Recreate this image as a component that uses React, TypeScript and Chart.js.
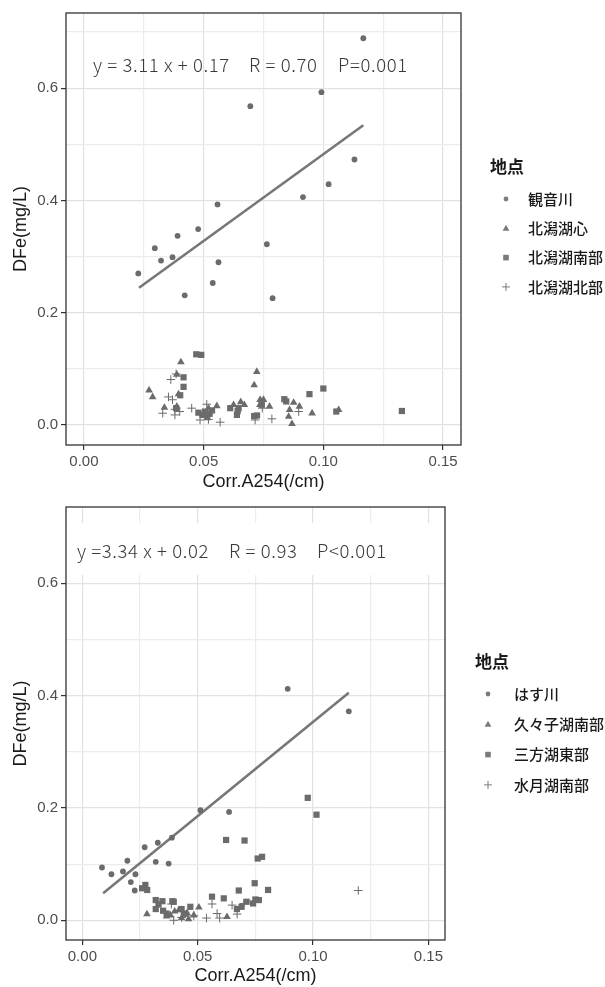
import React, { useEffect, useRef } from 'react';
import { Chart, registerables } from 'chart.js';

Chart.register(...registerables);

// ---------- shared axis ticks ----------
const xTicks = [0, 0.05, 0.1, 0.15];
const yTicks = [0, 0.2, 0.4, 0.6];
const xMinor = [0.025, 0.075, 0.125];
const yMinor = [0.1, 0.3, 0.5, 0.7];

// ---------- panel A (北潟) ----------
const seriesA = ['観音川', '北潟湖心', '北潟湖南部', '北潟湖北部'];
const kannonX = [0.0227, 0.0296, 0.0322, 0.037, 0.0391, 0.0421, 0.0477, 0.0538, 0.0558, 0.0562, 0.0695, 0.0764, 0.0788, 0.0915, 0.0992, 0.1022, 0.113, 0.1167];
const kannonY = [0.27, 0.315, 0.293, 0.299, 0.337, 0.231, 0.349, 0.253, 0.393, 0.29, 0.568, 0.322, 0.226, 0.406, 0.593, 0.429, 0.473, 0.689];
const shinX = [0.0272, 0.0287, 0.0336, 0.0388, 0.0388, 0.0405, 0.0395, 0.052, 0.0555, 0.0625, 0.0655, 0.067, 0.0711, 0.0722, 0.0735, 0.0736, 0.075, 0.0775, 0.0859, 0.0855, 0.0869, 0.0876, 0.09, 0.0953, 0.1064];
const shinY = [0.062, 0.05, 0.031, 0.033, 0.09, 0.112, 0.055, 0.03, 0.034, 0.036, 0.041, 0.036, 0.071, 0.095, 0.036, 0.045, 0.045, 0.033, 0.027, 0.015, 0.002, 0.04, 0.033, 0.021, 0.027];
const nanbuX = [0.0469, 0.049, 0.0416, 0.0416, 0.0402, 0.0385, 0.0478, 0.0495, 0.0505, 0.0515, 0.0525, 0.0535, 0.0611, 0.0646, 0.0639, 0.0642, 0.0711, 0.0723, 0.0743, 0.0837, 0.0845, 0.0942, 0.1, 0.1054, 0.1328];
const nanbuY = [0.126, 0.125, 0.085, 0.068, 0.053, 0.03, 0.022, 0.018, 0.024, 0.014, 0.02, 0.026, 0.03, 0.03, 0.018, 0.025, 0.016, 0.017, 0.036, 0.046, 0.042, 0.055, 0.065, 0.024, 0.025];
const hokubuX = [0.0363, 0.0385, 0.0353, 0.037, 0.0329, 0.038, 0.038, 0.04, 0.045, 0.0513, 0.0485, 0.052, 0.0569, 0.0715, 0.0745, 0.0785, 0.0897];
const hokubuY = [0.081, 0.091, 0.05, 0.045, 0.021, 0.018, 0.028, 0.024, 0.03, 0.037, 0.009, 0.01, 0.005, 0.009, 0.03, 0.011, 0.024];
const fitAX = [0.023, 0.1167];
const fitAY = [0.2446, 0.534];
const eqA = ['y = 3.11 x + 0.17', 'R = 0.70', 'P=0.001'];

// ---------- panel B (三方五湖) ----------
const seriesB = ['はす川', '久々子湖南部', '三方湖東部', '水月湖南部'];
const hasuX = [0.0085, 0.0126, 0.0176, 0.0195, 0.021, 0.023, 0.0227, 0.027, 0.0318, 0.0327, 0.0374, 0.0388, 0.0512, 0.0636, 0.089, 0.1155];
const hasuY = [0.094, 0.082, 0.087, 0.106, 0.068, 0.082, 0.053, 0.13, 0.104, 0.138, 0.101, 0.147, 0.196, 0.193, 0.412, 0.372];
const kukushiX = [0.028, 0.0365, 0.0382, 0.04, 0.0418, 0.043, 0.0445, 0.0454, 0.046, 0.0483, 0.0505, 0.0627];
const kukushiY = [0.011, 0.007, 0.009, 0.016, 0.018, 0.004, 0.01, 0.013, 0.002, 0.009, 0.023, 0.006];
const mikataX = [0.0977, 0.1015, 0.0623, 0.0703, 0.076, 0.0779, 0.0747, 0.0678, 0.0805, 0.0613, 0.0562, 0.075, 0.0765, 0.074, 0.0712, 0.069, 0.067, 0.0273, 0.0259, 0.0281, 0.0318, 0.0347, 0.039, 0.033, 0.0318, 0.035, 0.0396, 0.0468, 0.043, 0.044, 0.0365];
const mikataY = [0.218, 0.188, 0.143, 0.142, 0.11, 0.113, 0.066, 0.053, 0.054, 0.039, 0.042, 0.037, 0.036, 0.03, 0.033, 0.024, 0.02, 0.063, 0.057, 0.054, 0.036, 0.034, 0.034, 0.028, 0.02, 0.017, 0.033, 0.024, 0.02, 0.012, 0.012];
const suigetsuX = [0.1196, 0.0386, 0.0396, 0.043, 0.0483, 0.0538, 0.0562, 0.0584, 0.0595, 0.0649, 0.0671, 0.07];
const suigetsuY = [0.053, 0.029, 0.0, 0.005, 0.008, 0.004, 0.029, 0.012, 0.004, 0.027, 0.011, 0.03];
const fitBX = [0.009, 0.1155];
const fitBY = [0.048, 0.405];
const eqB = ['y =3.34 x + 0.02', 'R = 0.93', 'P<0.001'];

// ---------- styling ----------
const GRAY = '#6b6b6b';
const styles = ['circle', 'triangle', 'rect', 'cross'];
const radii = [2.9, 4.4, 4.4, 4.3];

const pts = (xs: number[], ys: number[]) => xs.map((x, i) => ({ x, y: ys[i] }));
const near = (v: number, arr: number[]) => arr.some((a) => Math.abs(a - v) < 1e-6);

function drawMarker(ctx: CanvasRenderingContext2D, style: string, x: number, y: number) {
  ctx.save();
  ctx.fillStyle = '#7a7a7a';
  ctx.strokeStyle = '#7a7a7a';
  ctx.beginPath();
  if (style === 'circle') {
    ctx.arc(x, y, 2.4, 0, Math.PI * 2);
    ctx.fill();
  } else if (style === 'triangle') {
    ctx.moveTo(x, y - 3.6);
    ctx.lineTo(x + 3.4, y + 2.4);
    ctx.lineTo(x - 3.4, y + 2.4);
    ctx.closePath();
    ctx.fill();
  } else if (style === 'rect') {
    ctx.fillRect(x - 2.8, y - 2.8, 5.6, 5.6);
  } else {
    ctx.lineWidth = 1;
    ctx.moveTo(x - 4, y);
    ctx.lineTo(x + 4, y);
    ctx.moveTo(x, y - 4);
    ctx.lineTo(x, y + 4);
    ctx.stroke();
  }
  ctx.restore();
}

const panelPlugin = {
  id: 'panelDeco',
  beforeDatasetsDraw(chart: any, _a: any, opts: any) {
    const { ctx, chartArea } = chart;
    if (opts.band) {
      ctx.save();
      ctx.fillStyle = '#ffffff';
      ctx.fillRect(chartArea.left + 1, opts.band[0], chartArea.right - chartArea.left - 2, opts.band[1] - opts.band[0]);
      ctx.restore();
    }
  },
  afterDraw(chart: any, _a: any, opts: any) {
    const { ctx, chartArea } = chart;
    ctx.save();
    // panel border
    ctx.strokeStyle = '#333333';
    ctx.lineWidth = 1.3;
    ctx.strokeRect(chartArea.left, chartArea.top, chartArea.right - chartArea.left, chartArea.bottom - chartArea.top);
    // equation
    ctx.fillStyle = '#3a3a3a';
    ctx.font = '300 18.5px "Noto Sans CJK JP", "Noto Sans", sans-serif';
    try { (ctx as any).letterSpacing = '0.6px'; } catch (e) { /* ignore */ }
    ctx.textBaseline = 'middle';
    ctx.textAlign = 'left';
    opts.eq.forEach((t: string, i: number) => {
      ctx.fillText(t, chartArea.left + opts.eqX[i], chartArea.top + opts.eqY);
    });
    try { (ctx as any).letterSpacing = '0px'; } catch (e) { /* ignore */ }
    // legend
    const L = opts.legend;
    ctx.fillStyle = '#1a1a1a';
    ctx.font = 'bold 17px "Noto Sans CJK JP", sans-serif';
    ctx.fillText('地点', L.titleX, L.titleY);
    ctx.font = '500 15px "Noto Sans CJK JP", sans-serif';
    opts.names.forEach((name: string, i: number) => {
      const y = L.rowY + i * L.gap;
      drawMarker(ctx, styles[i], L.markX, y);
      ctx.fillStyle = '#1a1a1a';
      ctx.fillText(name, L.textX, y);
    });
    ctx.restore();
  },
};

function makeConfig(p: any): any {
  const datasets: any[] = p.series.map((s: any, i: number) => ({
    type: 'scatter',
    label: p.names[i],
    data: pts(s[0], s[1]),
    pointStyle: styles[i],
    pointRadius: radii[i],
    pointHoverRadius: radii[i],
    backgroundColor: GRAY,
    borderColor: GRAY,
    borderWidth: i === 3 ? 1 : 0,
  }));
  datasets.push({
    type: 'line',
    label: 'fit',
    data: pts(p.fit[0], p.fit[1]),
    borderColor: '#777777',
    borderWidth: 2.6,
    pointRadius: 0,
    fill: false,
  });
  const tickFont = { family: '"Liberation Sans", Arial, sans-serif', size: 15 };
  const titleFont = { family: '"Liberation Sans", Arial, sans-serif', size: 18 };
  const gridColor = (majors: number[]) => (c: any) => (c.tick && near(c.tick.value, majors) ? '#e2e2e2' : '#ececec');
  const tickColor = (majors: number[]) => (c: any) => (c.tick && near(c.tick.value, majors) ? '#333333' : 'rgba(0,0,0,0)');
  return {
    type: 'scatter',
    data: { datasets },
    options: {
      animation: false,
      responsive: false,
      events: [],
      layout: { padding: { top: p.area.top, right: p.W - p.area.right, bottom: 0, left: 0 } },
      plugins: {
        legend: { display: false },
        tooltip: { enabled: false },
        panelDeco: { eq: p.eq, eqX: p.eqX, eqY: p.eqY, band: p.band, names: p.names, legend: p.legend },
      },
      scales: {
        x: {
          type: 'linear',
          min: p.xr[0],
          max: p.xr[1],
          afterFit: (s: any) => { s.height = p.H - p.area.bottom; },
          afterBuildTicks: (s: any) => { s.ticks = [...xTicks, ...xMinor].sort((a, b) => a - b).map((v) => ({ value: v })); },
          ticks: {
            font: tickFont,
            color: '#4d4d4d',
            padding: 3,
            maxRotation: 0,
            autoSkip: false,
            callback: (v: number) => (near(v, xTicks) ? v.toFixed(2) : ''),
          },
          grid: { color: gridColor(xTicks), lineWidth: 1.2, tickLength: 5, tickColor: tickColor(xTicks), tickWidth: 1.2 },
          border: { display: false },
          title: { display: true, text: 'Corr.A254(/cm)', font: titleFont, color: '#1a1a1a', padding: { top: 0, bottom: p.xTitlePad } },
        },
        y: {
          type: 'linear',
          min: p.yr[0],
          max: p.yr[1],
          afterFit: (s: any) => { s.width = p.area.left; },
          afterBuildTicks: (s: any) => { s.ticks = [...yTicks, ...yMinor].sort((a, b) => a - b).map((v) => ({ value: v })); },
          ticks: {
            font: tickFont,
            color: '#4d4d4d',
            padding: 3,
            autoSkip: false,
            callback: (v: number) => (near(v, yTicks) ? v.toFixed(1) : ''),
          },
          grid: { color: gridColor(yTicks), lineWidth: 1.2, tickLength: 5, tickColor: tickColor(yTicks), tickWidth: 1.2 },
          border: { display: false },
          title: { display: true, text: 'DFe(mg/L)', font: titleFont, color: '#1a1a1a', padding: { top: 10, bottom: 0 } },
        },
      },
    },
    plugins: [panelPlugin],
  };
}

const panelA = {
  W: 605, H: 494,
  area: { left: 66, right: 461, top: 13, bottom: 445 },
  xr: [-0.0075, 0.1575], yr: [-0.0356, 0.734],
  series: [[kannonX, kannonY], [shinX, shinY], [nanbuX, nanbuY], [hokubuX, hokubuY]],
  names: seriesA,
  fit: [fitAX, fitAY],
  eq: eqA, eqX: [27, 183, 272], eqY: 52, band: null,
  legend: { titleX: 490, titleY: 167, markX: 506, textX: 528, rowY: 199, gap: 29.3 },
  xTitlePad: 1,
};

const panelB = {
  W: 605, H: 493,
  area: { left: 66, right: 445, top: 13, bottom: 446 },
  xr: [-0.0071, 0.1572], yr: [-0.0351, 0.7358],
  series: [[hasuX, hasuY], [kukushiX, kukushiY], [mikataX, mikataY], [suigetsuX, suigetsuY]],
  names: seriesB,
  fit: [fitBX, fitBY],
  eq: eqB, eqX: [11, 163, 251], eqY: 44, band: [29, 81],
  legend: { titleX: 475, titleY: 168, markX: 488, textX: 514, rowY: 200, gap: 30.3 },
  xTitlePad: 0,
};

function Panel({ p, top }: { p: any; top: number }) {
  const ref = useRef<HTMLCanvasElement>(null);
  useEffect(() => {
    if (!ref.current) return;
    const chart = new Chart(ref.current, makeConfig(p));
    return () => chart.destroy();
  }, [p]);
  return (
    <canvas
      ref={ref}
      width={p.W}
      height={p.H}
      style={{ position: 'absolute', left: 0, top, width: p.W, height: p.H }}
    />
  );
}

export default function App() {
  return (
    <div style={{ position: 'absolute', left: 0, top: 0, width: 605, height: 987, background: '#ffffff' }}>
      <Panel p={panelA} top={0} />
      <Panel p={panelB} top={494} />
    </div>
  );
}
